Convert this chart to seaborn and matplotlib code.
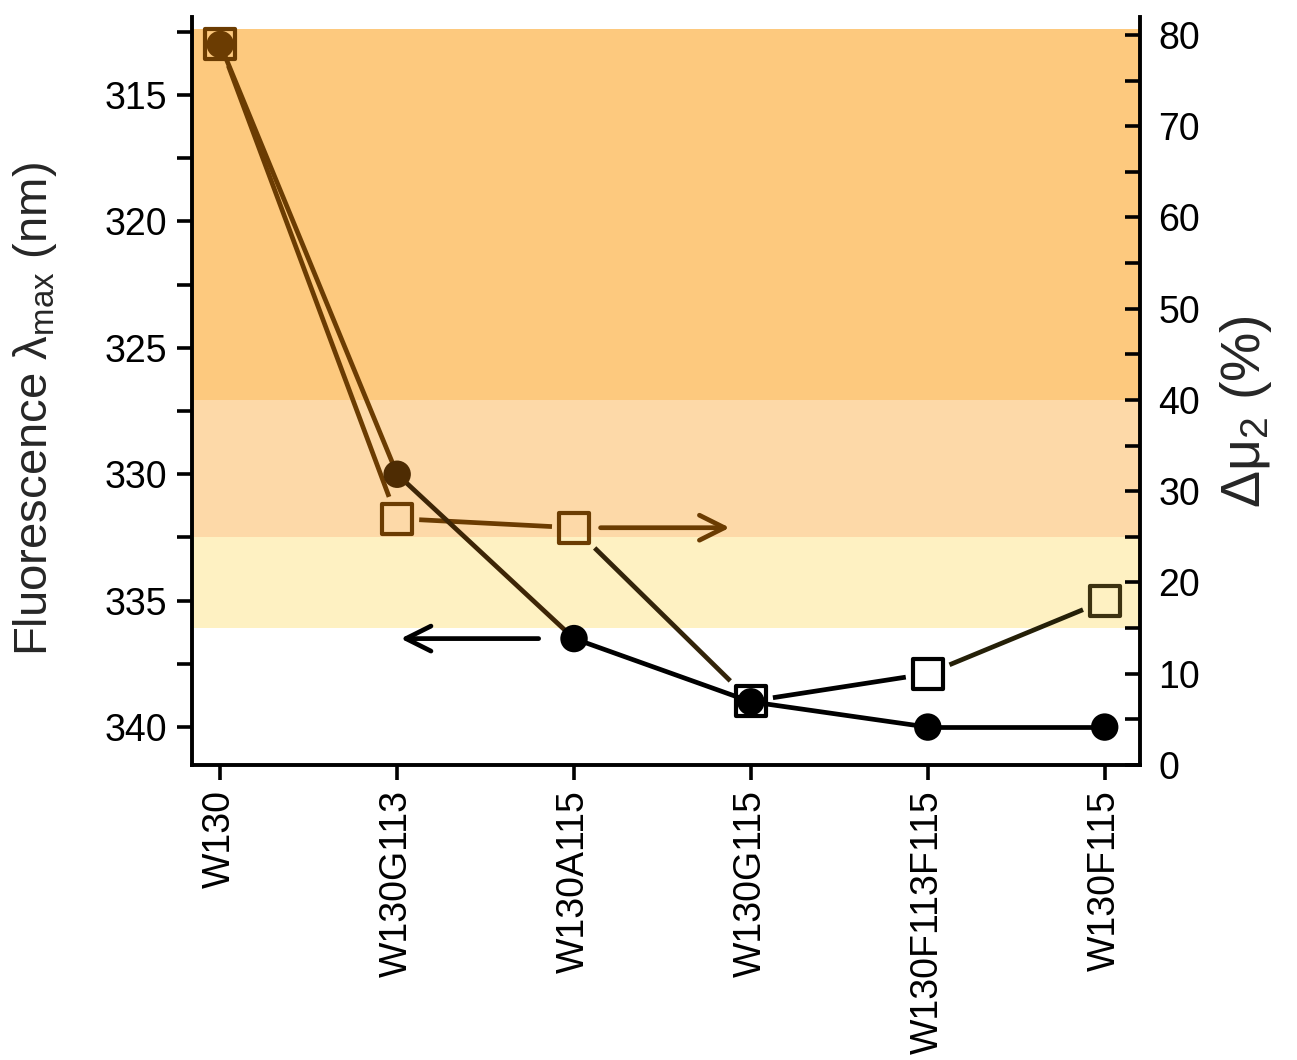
import numpy as np
import pandas as pd
import matplotlib
matplotlib.use("Agg")
import matplotlib.pyplot as plt
import seaborn as sns
from matplotlib.ticker import MultipleLocator

# ---------------- data ----------------
mutants = ["W130", "W130G113", "W130A115", "W130G115", "W130F113F115", "W130F115"]
lambda_max = [313, 330, 336.5, 339, 340, 340]        # left axis (nm)
delta_mu2 = [79, 27, 26, 7, 10, 18]                  # right axis (%)

circle_colors = ["#6b3c02", "#4e2c03", "#000000", "#000000", "#000000", "#000000"]
circle_seg_colors = ["#6b3c02", "#3d2506", "#000000", "#000000", "#000000"]
square_colors = ["#6b3c02", "#6b3c02", "#6b3c02", "#000000", "#000000", "#3c3210"]
square_seg_colors = ["#6b3c02", "#6b3c02", "#33240a", "#000000", "#252008"]

band_lows = [15, 25, 40]
band_highs = [25, 40, 80.6]
band_colors = ["#FEF1C2", "#FDD9A8", "#FDC97E"]

left_ticks = [315, 320, 325, 330, 335, 340]
right_ticks = [0, 10, 20, 30, 40, 50, 60, 70, 80]

# ---------------- style ----------------
sns.set_theme(style="ticks")
plt.rcParams["font.family"] = ["Liberation Sans", "DejaVu Sans"]
plt.rcParams["mathtext.fontset"] = "custom"
plt.rcParams["mathtext.rm"] = "Liberation Sans"
plt.rcParams["mathtext.it"] = "Liberation Sans:italic"
plt.rcParams["mathtext.bf"] = "Liberation Sans:bold"

fig = plt.figure(figsize=(12.97, 10.60), dpi=100)
ax1 = fig.add_axes([0.148, 0.2783, 0.731, 0.706])
ax2 = ax1.twinx()
ax1.set_zorder(ax2.get_zorder() + 1)
ax1.patch.set_visible(False)

df = pd.DataFrame({"mutant": mutants, "x": np.arange(len(mutants)),
                   "lambda_max": lambda_max, "delta_mu2": delta_mu2})

# bands (right-axis units)
for lo, hi, c in zip(band_lows, band_highs, band_colors):
    ax2.axhspan(lo, hi, color=c, lw=0, zorder=0)

# markers
sns.scatterplot(data=df, x="x", y="lambda_max", hue="mutant",
                palette=dict(zip(mutants, circle_colors)), s=390, linewidth=0,
                legend=False, ax=ax1, zorder=6)
sns.scatterplot(data=df, x="x", y="delta_mu2", hue="mutant",
                palette=dict(zip(mutants, square_colors)), marker="s", s=470,
                legend=False, ax=ax2, zorder=5)
sq = ax2.collections[-1]
fc = sq.get_facecolors()
sq.set_edgecolors(fc)
sq.set_facecolors("none")
sq.set_linewidths(3.0)

# limits
ax1.set_xlim(-0.16, 5.2)
ax1.set_ylim(341.5, 311.9)
ax2.set_ylim(0, 82)

LW = 3.4
# circle-series line
xs = df["x"].to_numpy(dtype=float)
for i in range(len(xs) - 1):
    ax1.plot(xs[i:i + 2], lambda_max[i:i + 2], color=circle_seg_colors[i],
             lw=LW, zorder=4, solid_capstyle="butt")

# square-series line with gaps at the open squares
half = np.sqrt(470) / 2 * 100 / 72 + 2
extra = 5
T = ax2.transData
Ti = T.inverted()
for i in range(len(xs) - 1):
    p0 = T.transform((xs[i], delta_mu2[i]))
    p1 = T.transform((xs[i + 1], delta_mu2[i + 1]))
    d = p1 - p0
    u = d / np.hypot(*d)
    g = half / max(abs(u[0]), abs(u[1])) + extra
    q0 = Ti.transform(p0 + u * g)
    q1 = Ti.transform(p1 - u * g)
    ax2.plot([q0[0], q1[0]], [q0[1], q1[1]], color=square_seg_colors[i],
             lw=LW, zorder=4, solid_capstyle="butt")

# arrows
ax2.annotate("", xy=(2.88, 26.0), xytext=(2.15, 26.0),
             arrowprops=dict(arrowstyle="->,head_length=0.9,head_width=0.45",
                             color="#6b3c02", lw=LW, mutation_scale=20,
                             shrinkA=0, shrinkB=0), zorder=7)
ax1.annotate("", xy=(1.02, 336.5), xytext=(1.80, 336.5),
             arrowprops=dict(arrowstyle="->,head_length=0.9,head_width=0.45",
                             color="#000000", lw=LW, mutation_scale=20,
                             shrinkA=0, shrinkB=0), zorder=7)

# ticks
ax1.set_xticks(xs)
ax1.set_xticklabels(mutants, rotation=90, fontsize=27)
ax1.set_yticks(left_ticks)
ax1.yaxis.set_minor_locator(MultipleLocator(2.5))
ax2.set_yticks(right_ticks)
ax2.yaxis.set_minor_locator(MultipleLocator(5))

ax1.tick_params(axis="x", direction="out", length=11, width=2.6, pad=7,
                colors="black", labelsize=27)
ax1.tick_params(axis="y", which="both", direction="out", length=11, width=2.6,
                pad=7, colors="black", labelsize=27)
ax2.tick_params(axis="y", which="both", direction="in", length=11, width=2.6,
                pad=13, colors="black", labelsize=27)
ax1.tick_params(axis="y", which="minor", labelleft=False)

# spines
for s in ["top", "right"]:
    ax1.spines[s].set_visible(False)
for s in ["top", "left", "bottom"]:
    ax2.spines[s].set_visible(False)
for ax, s in [(ax1, "left"), (ax1, "bottom"), (ax2, "right")]:
    ax.spines[s].set_linewidth(2.8)
    ax.spines[s].set_color("black")

# labels
ax1.set_xlabel("")
ax1.set_ylabel("Fluorescence λ$_{\\mathrm{max}}$ (nm)", fontsize=34)
ax1.yaxis.set_label_coords(-0.140, 0.475)
ax2.set_ylabel("Δμ$_{2}$ (%)", fontsize=40, rotation=90)
ax2.yaxis.set_label_coords(1.082, 0.472)

fig.savefig("out.png", dpi=100)
